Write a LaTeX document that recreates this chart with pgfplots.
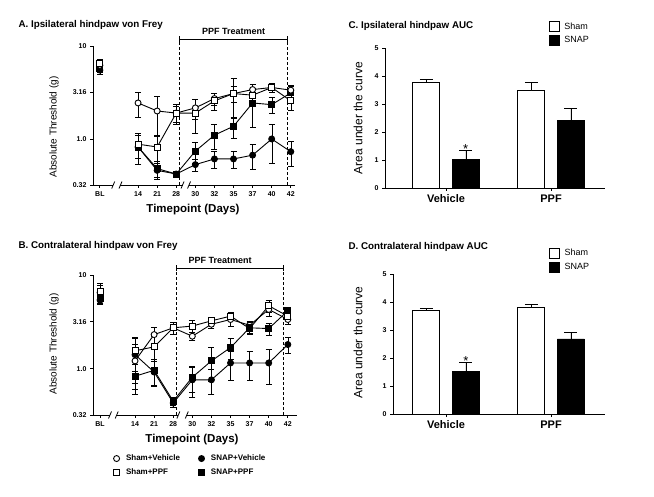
\documentclass[border=0pt]{standalone}
\usepackage{pgfplots}
\pgfplotsset{compat=1.18}
\usepackage{pgfplotstable}
\usepackage{fontspec}
\setmainfont{Liberation Sans}

% von Frey thresholds (g), x = category index: BL,14,21,28,30,32,35,37,40,42
% sv Sham+Vehicle, sp Sham+PPF, nv SNAP+Vehicle, np SNAP+PPF; *e = relative error
% the nan row breaks the line between BL and day 14
\pgfplotstableread{
x    sv    sve   sp    spe   nv    nve   np    npe
0    6.2   0.15  6.5   0.12  5.5   0.10  5.8   0.10
1    nan   0     nan   0     nan   0     nan   0
2    2.44  0.30  0.88  0.30  0.82  0.35  0.82  0.35
3    2.00  0.45  0.82  0.30  0.46  0.20  0.48  0.20
4    1.90  0.20  1.90  0.25  0.42  0.08  0.42  0.08
5    2.16  0.25  1.90  0.40  0.53  0.15  0.74  0.25
6    2.72  0.15  2.57  0.20  0.61  0.20  1.10  0.30
7    3.08  0.20  3.08  0.45  0.61  0.20  1.37  0.25
8    3.40  0.15  2.96  0.20  0.67  0.30  2.44  0.45
9    3.58  0.10  3.58  0.10  1.00  0.45  2.34  0.20
10   3.35  0.10  2.57  0.20  0.73  0.30  3.13  0.20
}\ipsi

\pgfplotstableread{
x    sv    sve   sp    spe   nv    nve   np    npe
0.17 6.5   0.20  6.6   0.25  5.4   0.10  5.6   0.10
1    nan   0     nan   0     nan   0     nan   0
2    1.21  0.50  1.55  0.40  1.41  0.50  0.83  0.35
3    2.31  0.20  1.71  0.30  0.92  0.30  0.96  0.30
4    2.73  0.15  2.73  0.15  0.43  0.10  0.45  0.10
5    2.22  0.10  2.85  0.15  0.76  0.35  0.81  0.30
6    2.98  0.10  3.24  0.10  0.76  0.30  1.21  0.40
7    3.35  0.15  3.64  0.10  1.15  0.35  1.68  0.25
8    2.91  0.10  2.68  0.10  1.15  0.35  2.73  0.15
9    4.29  0.15  4.69  0.15  1.15  0.40  2.68  0.15
10   3.35  0.10  3.64  0.10  1.81  0.20  4.15  0.10
}\contra

% area under the curve
\pgfplotstableread{
x  sham  shame  snap  snape
1  3.76  0.12   1.01  0.34
2  3.49  0.27   2.42  0.41
}\aucipsi

\pgfplotstableread{
x  sham  shame  snap  snape
1  3.71  0.06   1.51  0.32
2  3.81  0.12   2.68  0.24
}\auccontra

\newcommand\tickfont{\bfseries\fontsize{7}{8}\selectfont}

\begin{document}
\begin{tikzpicture}
\path (0pt,0pt) rectangle (654pt,496pt);

% ---------- A ----------
\node[anchor=base west, font=\bfseries\fontsize{9.8}{11}\selectfont] at (15pt,468pt) {A. Ipsilateral hindpaw von Frey};
\node[rotate=90, font=\fontsize{10}{12}\selectfont] at (54pt,369pt) {Absolute Threshold (g)};
\node[anchor=base, font=\bfseries\fontsize{11.5}{13}\selectfont] at (193pt,283.5pt) {Timepoint (Days)};
\begin{axis}[at={(93pt,311pt)}, anchor=south west, scale only axis, width=202pt, height=139pt,
  clip=false, ymode=log, ymin=0.32, ymax=10, unbounded coords=jump,
  ytick={0.32,1,3.16,10}, yticklabels={0.32,1.0,3.16,10},
  xmin=-0.36, xmax=10.22, xtick={0,2,3,4,5,6,7,8,9,10},
  xticklabels={BL,14,21,28,30,32,35,37,40,42},
  axis x line*=bottom, axis y line*=left,
  axis line style={line width=0.8pt},
  tick align=outside, major tick length=3pt,
  tick style={black, line width=0.8pt},
  tick label style={font=\tickfont}]
\addplot[black, line width=0.9pt, mark=*, mark size=3pt, mark options={fill=black},
  error bars/y dir=both, error bars/y explicit relative]
  table[x=x, y=nv, y error=nve] {\ipsi};
\addplot[black, line width=0.9pt, mark=square*, mark size=3pt, mark options={fill=black},
  error bars/y dir=both, error bars/y explicit relative]
  table[x=x, y=np, y error=npe] {\ipsi};
\addplot[black, line width=0.9pt, mark=*, mark size=3pt, mark options={fill=white},
  error bars/y dir=both, error bars/y explicit relative]
  table[x=x, y=sv, y error=sve] {\ipsi};
\addplot[black, line width=0.9pt, mark=square*, mark size=3pt, mark options={fill=white},
  error bars/y dir=both, error bars/y explicit relative]
  table[x=x, y=sp, y error=spe] {\ipsi};
\coordinate (aL) at (axis cs:4.19,0.32);
\coordinate (aR) at (axis cs:9.8,0.32);
\coordinate (aLt) at (axis cs:4.19,11.9);
\coordinate (aRt) at (axis cs:9.8,11.9);
\coordinate (aT) at (axis cs:7.0,11.9);
\coordinate (a1) at (axis cs:0.70,0.32);
\coordinate (a2) at (axis cs:1.08,0.32);
\coordinate (a3) at (axis cs:4.33,0.32);
\coordinate (a4) at (axis cs:4.67,0.32);
\end{axis}

% ---------- B ----------
\node[anchor=base west, font=\bfseries\fontsize{9.8}{11}\selectfont] at (15pt,247.5pt) {B. Contralateral hindpaw von Frey};
\node[rotate=90, font=\fontsize{10}{12}\selectfont] at (54pt,152pt) {Absolute Threshold (g)};
\node[anchor=base, font=\bfseries\fontsize{11.5}{13}\selectfont] at (192pt,53.5pt) {Timepoint (Days)};
\begin{axis}[at={(93pt,81pt)}, anchor=south west, scale only axis, width=204pt, height=140pt,
  clip=false, ymode=log, ymin=0.32, ymax=10, unbounded coords=jump,
  ytick={0.32,1,3.16,10}, yticklabels={0.32,1.0,3.16,10},
  xmin=-0.2, xmax=10.48, xtick={0.17,2,3,4,5,6,7,8,9,10},
  xticklabels={BL,14,21,28,30,32,35,37,40,42},
  axis x line*=bottom, axis y line*=left,
  axis line style={line width=0.8pt},
  tick align=outside, major tick length=3pt,
  tick style={black, line width=0.8pt},
  tick label style={font=\tickfont},
  legend columns=2,
  legend style={at={(0.083,-0.255)}, anchor=north west, draw=none, fill=none,
    font=\bfseries\fontsize{8}{9}\selectfont, row sep=2.5pt,
    /tikz/every even column/.append style={column sep=16pt}},
  legend image code/.code={\path (0pt,0pt) (10pt,0pt); \draw[#1] plot coordinates {(3pt,0pt)};},
  legend cell align=left]
\addplot[forget plot, black, line width=0.9pt, mark=*, mark size=3pt, mark options={fill=white},
  error bars/y dir=both, error bars/y explicit relative]
  table[x=x, y=sv, y error=sve] {\contra};
\addplot[forget plot, black, line width=0.9pt, mark=*, mark size=3pt, mark options={fill=black},
  error bars/y dir=both, error bars/y explicit relative]
  table[x=x, y=nv, y error=nve] {\contra};
\addplot[forget plot, black, line width=0.9pt, mark=square*, mark size=3pt, mark options={fill=white},
  error bars/y dir=both, error bars/y explicit relative]
  table[x=x, y=sp, y error=spe] {\contra};
\addplot[forget plot, black, line width=0.9pt, mark=square*, mark size=3pt, mark options={fill=black},
  error bars/y dir=both, error bars/y explicit relative]
  table[x=x, y=np, y error=npe] {\contra};
\addlegendimage{only marks, black, line width=0.9pt, mark=*, mark size=3pt, mark options={fill=white}}
\addlegendentry{Sham+Vehicle}
\addlegendimage{only marks, black, line width=0.9pt, mark=*, mark size=3pt, mark options={fill=black}}
\addlegendentry{SNAP+Vehicle}
\addlegendimage{only marks, black, line width=0.9pt, mark=square*, mark size=3pt, mark options={fill=white}}
\addlegendentry{Sham+PPF}
\addlegendimage{only marks, black, line width=0.9pt, mark=square*, mark size=3pt, mark options={fill=black}}
\addlegendentry{SNAP+PPF}
\coordinate (bL) at (axis cs:4.15,0.32);
\coordinate (bR) at (axis cs:9.75,0.32);
\coordinate (bLt) at (axis cs:4.15,11.9);
\coordinate (bRt) at (axis cs:9.75,11.9);
\coordinate (bT) at (axis cs:6.45,11.9);
\coordinate (b1) at (axis cs:0.69,0.32);
\coordinate (b2) at (axis cs:1.04,0.32);
\coordinate (b3) at (axis cs:4.27,0.32);
\coordinate (b4) at (axis cs:4.71,0.32);
\end{axis}

% PPF treatment brackets and axis breaks
\foreach \s in {a,b}{
  \draw[dash pattern=on 3pt off 2pt, line width=0.8pt] (\s L) -- (\s Lt);
  \draw[dash pattern=on 3pt off 2pt, line width=0.8pt] (\s R) -- (\s Rt);
  \draw[line width=0.8pt] (\s Lt) -- (\s Rt);
  \draw[line width=0.8pt] ([yshift=-3pt]\s Lt) -- ([yshift=3pt]\s Lt);
  \draw[line width=0.8pt] ([yshift=-3pt]\s Rt) -- ([yshift=3pt]\s Rt);
  \node[anchor=base, font=\bfseries\fontsize{9}{10}\selectfont] at ([yshift=4.5pt]\s T) {PPF Treatment};
  \draw[white, line width=3pt] (\s 1) -- (\s 2);
  \draw[white, line width=3pt] (\s 3) -- (\s 4);
  \foreach \k in {1,2,3,4}{
    \draw[line width=0.8pt] ([xshift=-1.5pt,yshift=-3.5pt]\s\k) -- ([xshift=1.5pt,yshift=3.5pt]\s\k);
  }
}

% ---------- C ----------
\node[anchor=base west, font=\bfseries\fontsize{9.8}{11}\selectfont] at (345pt,467.5pt) {C. Ipsilateral hindpaw AUC};
\node[rotate=90, font=\fontsize{12}{14}\selectfont] at (358pt,378pt) {Area under the curve};
\begin{axis}[at={(385pt,308pt)}, anchor=south west, scale only axis, width=220pt, height=140pt,
  clip=false, ymin=0, ymax=5, ytick={0,1,2,3,4,5}, yticklabels={0,1,2,3,4,5},
  xmin=0.419, xmax=2.514, xtick={1,2}, xticklabels={Vehicle,PPF},
  axis x line*=bottom, axis y line*=left,
  axis line style={line width=0.8pt},
  tick align=outside, major tick length=3pt,
  tick style={black, line width=0.8pt},
  x tick label style={font=\bfseries\fontsize{11}{13}\selectfont},
  y tick label style={font=\tickfont},
  ybar, bar width=27pt,
  legend style={at={(0.729,1.211)}, anchor=north west, draw=none, fill=none,
    font=\fontsize{9}{10}\selectfont, row sep=2pt},
  legend image code/.code={\draw[#1] (0pt,-5pt) rectangle (10pt,5pt); \path (13pt,0pt);},
  legend cell align=left]
\addplot[draw=black, fill=white, line width=0.9pt, bar shift=-19.75pt,
  error bars/y dir=plus, error bars/y explicit,
  error bars/error mark options={rotate=90, mark size=6.5pt, line width=0.8pt}]
  table[x=x, y=sham, y error=shame] {\aucipsi};
\addlegendentry{Sham}
\addplot[draw=black, fill=black, line width=0.9pt, bar shift=19.75pt,
  error bars/y dir=plus, error bars/y explicit,
  error bars/error mark options={rotate=90, mark size=6.5pt, line width=0.8pt}]
  table[x=x, y=snap, y error=snape] {\aucipsi};
\addlegendentry{SNAP}
\coordinate (cs) at (axis cs:1,1.35);
\end{axis}
\node[anchor=base, font=\fontsize{13}{13}\selectfont] at ([xshift=19.75pt, yshift=-3pt]cs) {*};

% ---------- D ----------
\node[anchor=base west, font=\bfseries\fontsize{9.8}{11}\selectfont] at (345pt,246pt) {D. Contralateral hindpaw AUC};
\node[rotate=90, font=\fontsize{12}{14}\selectfont] at (358pt,153.5pt) {Area under the curve};
\begin{axis}[at={(393pt,82pt)}, anchor=south west, scale only axis, width=212pt, height=140pt,
  clip=false, ymin=0, ymax=5, ytick={0,1,2,3,4,5}, yticklabels={0,1,2,3,4,5},
  xmin=0.495, xmax=2.514, xtick={1,2}, xticklabels={Vehicle,PPF},
  axis x line*=bottom, axis y line*=left,
  axis line style={line width=0.8pt},
  tick align=outside, major tick length=3pt,
  tick style={black, line width=0.8pt},
  x tick label style={font=\bfseries\fontsize{11}{13}\selectfont},
  y tick label style={font=\tickfont},
  ybar, bar width=27pt,
  legend style={at={(0.719,1.207)}, anchor=north west, draw=none, fill=none,
    font=\fontsize{9}{10}\selectfont, row sep=2pt},
  legend image code/.code={\draw[#1] (0pt,-5pt) rectangle (10pt,5pt); \path (13pt,0pt);},
  legend cell align=left]
\addplot[draw=black, fill=white, line width=0.9pt, bar shift=-19.75pt,
  error bars/y dir=plus, error bars/y explicit,
  error bars/error mark options={rotate=90, mark size=6.5pt, line width=0.8pt}]
  table[x=x, y=sham, y error=shame] {\auccontra};
\addlegendentry{Sham}
\addplot[draw=black, fill=black, line width=0.9pt, bar shift=19.75pt,
  error bars/y dir=plus, error bars/y explicit,
  error bars/error mark options={rotate=90, mark size=6.5pt, line width=0.8pt}]
  table[x=x, y=snap, y error=snape] {\auccontra};
\addlegendentry{SNAP}
\coordinate (ds) at (axis cs:1,1.83);
\end{axis}
\node[anchor=base, font=\fontsize{13}{13}\selectfont] at ([xshift=19.75pt, yshift=-3pt]ds) {*};
\end{tikzpicture}
\end{document}
